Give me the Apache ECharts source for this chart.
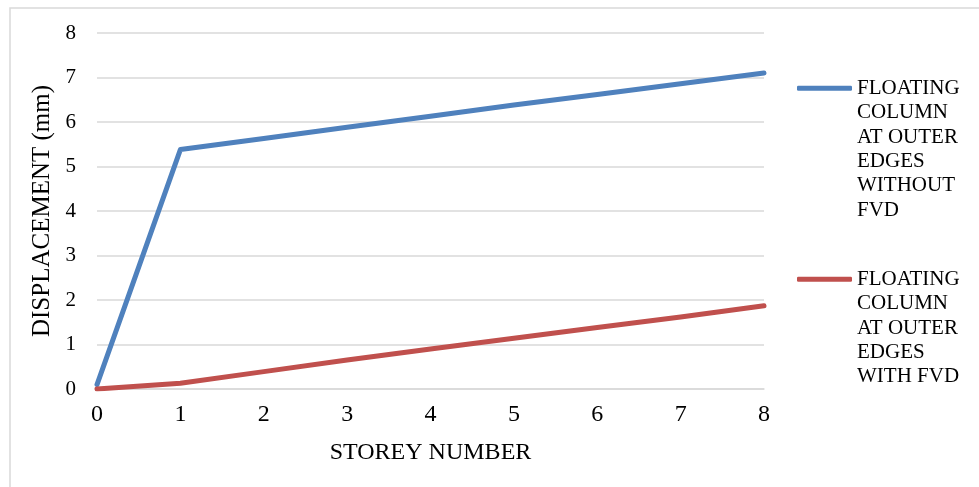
<!DOCTYPE html>
<html>
<head>
<meta charset="utf-8">
<script src="https://cdn.jsdelivr.net/npm/echarts@6/dist/echarts.min.js"></script>
<style>
  html, body { margin: 0; padding: 0; background: #fff; }
  #chart { width: 979px; height: 487px; }
</style>
</head>
<body>
<div id="chart"></div>
<script>
// Storey numbers along the x axis
const storeys = [0, 1, 2, 3, 4, 5, 6, 7, 8];
// Displacement (mm) per storey
const withoutFvd = [0.1, 5.38, 5.63, 5.88, 6.13, 6.38, 6.62, 6.86, 7.1];
const withFvd = [0, 0.13, 0.39, 0.65, 0.9, 1.14, 1.38, 1.62, 1.87];
// Series names (legend text, wrapped)
const nameWithout = 'FLOATING\nCOLUMN\nAT OUTER\nEDGES\nWITHOUT\nFVD';
const nameWith = 'FLOATING\nCOLUMN\nAT OUTER\nEDGES\nWITH FVD';

const FONT = '"Liberation Serif", "Times New Roman", serif';
const LH = 24.4;

const pairs = (xs, ys) => xs.map((x, i) => [x, ys[i]]);

// Legend text is centred on its swatch; leading blank lines put the
// swatch level with the first line of a wrapped name.
const topAligned = name => {
  const n = name.split('\n').length - 1;
  return '\n'.repeat(n) + name;
};

const chart = echarts.init(document.getElementById('chart'), null, { renderer: 'canvas' });

const legendCommon = {
  orient: 'vertical',
  left: 797,
  padding: 0,
  icon: 'roundRect',
  itemWidth: 55,
  itemHeight: 5,
  itemGap: 0,
  selectedMode: false,
  formatter: topAligned,
  textStyle: { fontFamily: FONT, fontSize: 21, color: '#000', lineHeight: LH }
};

chart.setOption({
  animation: false,
  backgroundColor: '#fff',
  graphic: [{
    type: 'rect',
    shape: { x: 10, y: 8, width: 1200, height: 1000 },
    style: { fill: 'none', stroke: '#D9D9D9', lineWidth: 1.5 },
    silent: true,
    z: -10
  }],
  grid: { left: 97, right: 215, top: 33, bottom: 98, containLabel: false },
  legend: [
    Object.assign({}, legendCommon, { data: [nameWithout], top: -46 }),
    Object.assign({}, legendCommon, { data: [nameWith], top: 169.5 })
  ],
  xAxis: {
    type: 'value',
    min: 0,
    max: 8,
    interval: 1,
    name: 'STOREY NUMBER',
    nameLocation: 'middle',
    nameGap: 52,
    nameTextStyle: { fontFamily: FONT, fontSize: 24, color: '#000' },
    axisLine: { show: true, lineStyle: { color: '#D9D9D9', width: 1.5 } },
    axisTick: { show: false },
    splitLine: { show: false },
    axisLabel: { fontFamily: FONT, fontSize: 24, color: '#000', margin: 14 }
  },
  yAxis: {
    type: 'value',
    min: 0,
    max: 8,
    interval: 1,
    name: 'DISPLACEMENT (mm)',
    nameLocation: 'middle',
    nameRotate: 90,
    nameGap: 42,
    nameTextStyle: { fontFamily: FONT, fontSize: 25, color: '#000' },
    axisLine: { show: false },
    axisTick: { show: false },
    splitLine: { show: true, lineStyle: { color: '#D9D9D9', width: 1.5 } },
    axisLabel: { fontFamily: FONT, fontSize: 21, color: '#000', margin: 21 }
  },
  series: [
    {
      name: nameWithout,
      type: 'line',
      data: pairs(storeys, withoutFvd),
      symbol: 'none',
      lineStyle: { color: '#4F81BD', width: 5, cap: 'round', join: 'round' },
      itemStyle: { color: '#4F81BD' }
    },
    {
      name: nameWith,
      type: 'line',
      data: pairs(storeys, withFvd),
      symbol: 'none',
      lineStyle: { color: '#C0504D', width: 5, cap: 'round', join: 'round' },
      itemStyle: { color: '#C0504D' }
    }
  ]
});
</script>
</body>
</html>
